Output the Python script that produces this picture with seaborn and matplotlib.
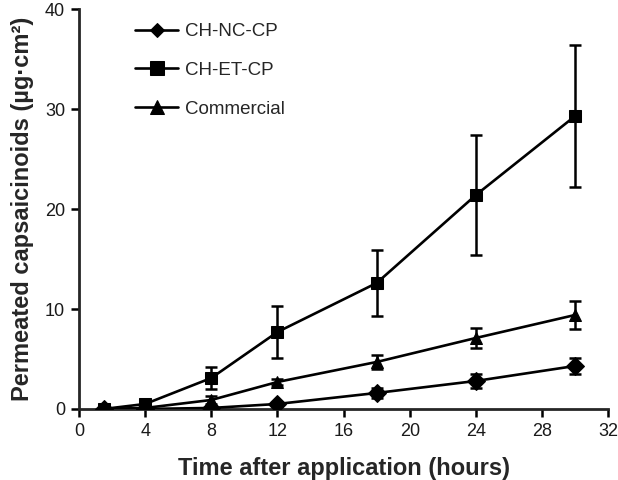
import seaborn as sns
import matplotlib.pyplot as plt
import pandas as pd
import numpy as np

sns.set_style("ticks")
plt.rcParams['font.family'] = ['Liberation Sans', 'DejaVu Sans']

hours = [1.5, 4, 8, 12, 18, 24, 30]
series = ['CH-NC-CP', 'CH-ET-CP', 'Commercial']
nc_cp = [0.0, 0.0, 0.1, 0.5, 1.6, 2.8, 4.3]
nc_cp_err = [0.0, 0.0, 0.2, 0.2, 0.5, 0.7, 0.8]
et_cp = [0.0, 0.5, 3.1, 7.7, 12.6, 21.4, 29.3]
et_cp_err = [0.0, 0.1, 1.1, 2.6, 3.3, 6.0, 7.1]
commercial = [0.0, 0.1, 0.9, 2.7, 4.7, 7.1, 9.4]
commercial_err = [0.0, 0.0, 0.4, 0.3, 0.7, 1.0, 1.4]

vals = {'CH-NC-CP': (nc_cp, nc_cp_err),
        'CH-ET-CP': (et_cp, et_cp_err),
        'Commercial': (commercial, commercial_err)}
markers = {'CH-NC-CP': 'D', 'CH-ET-CP': 's', 'Commercial': '^'}
msizes = {'CH-NC-CP': 7.5, 'CH-ET-CP': 9.5, 'Commercial': 10}

rows = []
for s in series:
    for h, v in zip(hours, vals[s][0]):
        rows.append({'hours': h, 'value': v, 'series': s})
df = pd.DataFrame(rows)

fig = plt.figure(figsize=(6.18, 4.8), dpi=100)
ax = fig.add_axes([0.128, 0.148, 0.856, 0.833])

for s in series:
    y, e = vals[s]
    ax.errorbar(hours, y, yerr=e, fmt='none', ecolor='black', elinewidth=1.8,
                capsize=4.3, capthick=1.8, zorder=2)

sns.lineplot(data=df, x='hours', y='value', hue='series', style='series',
             palette=['black'] * 3, markers=markers, dashes=False,
             linewidth=1.9, markersize=9, markeredgecolor='black', ax=ax, zorder=3)
for line, s in zip(ax.get_lines()[-3:], series):
    line.set_markersize(msizes[s])

ax.set_xlim(0, 32)
ax.set_ylim(0, 40)
ax.set_xticks(np.arange(0, 33, 4))
ax.set_yticks(np.arange(0, 41, 10))
ax.tick_params(axis='both', labelsize=13, width=1.8, length=6, direction='out',
               colors='black', labelcolor='#1a1a1a', pad=4)
for sp in ['left', 'bottom']:
    ax.spines[sp].set_linewidth(2)
sns.despine(ax=ax)

ax.set_xlabel('Time after application (hours)', fontsize=17, fontweight='bold', labelpad=12)
ax.set_ylabel('Permeated capsaicinoids (µg·cm²)', fontsize=17, fontweight='bold', labelpad=8)

leg = ax.legend(loc='upper left', bbox_to_anchor=(0.106, 0.965), frameon=False,
                fontsize=13.5, labelspacing=1.15, handlelength=2.3, handletextpad=0.35,
                borderpad=0, borderaxespad=0)

plt.savefig('out.png', dpi=100)
